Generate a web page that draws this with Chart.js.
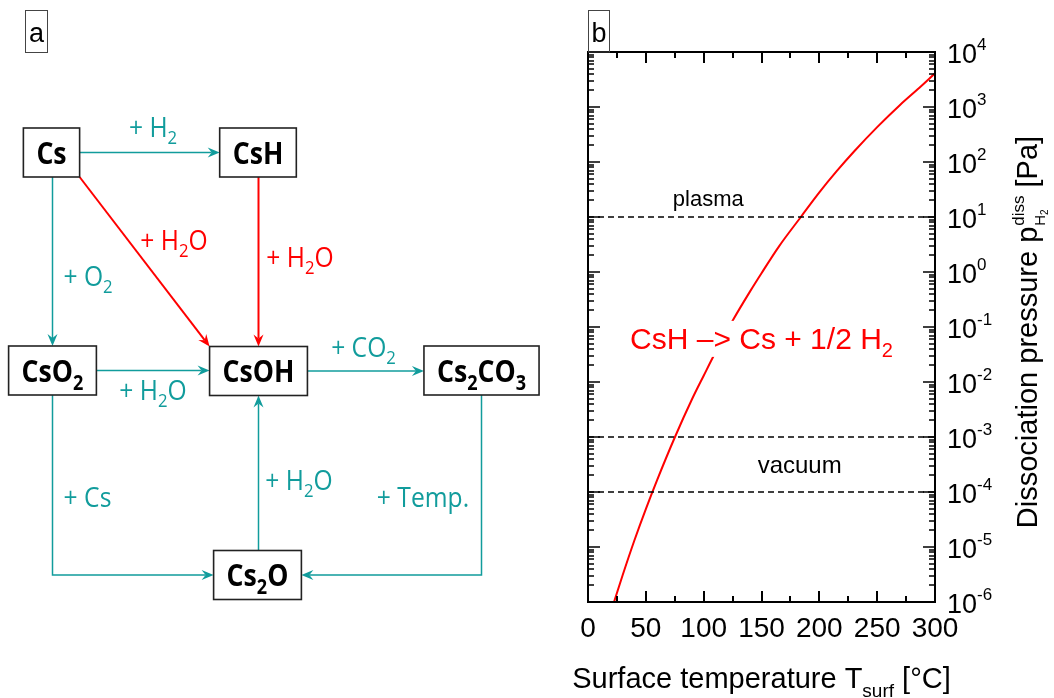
<!DOCTYPE html>
<html>
<head>
<meta charset="utf-8">
<script src="https://cdn.jsdelivr.net/npm/chart.js@4.4.1/dist/chart.umd.min.js"></script>
<style>
  body { margin: 0; background: #fff; }
  #wrap { position: relative; width: 1054px; height: 698px; overflow: hidden; }
  #diagram { position: absolute; left: 0; top: 0; }
  #chart { position: absolute; left: 560px; top: 0; }
</style>
</head>
<body>
<div id="wrap">
  <canvas id="diagram" width="560" height="698"></canvas>
  <canvas id="chart" width="494" height="698"></canvas>
</div>
<script>
// ---- panel b data: dissociation pressure of CsH ----
var tempC = [22.5, 30, 40, 50, 60, 75, 90, 100, 110, 125, 140, 150, 165, 184, 200, 215, 230, 250, 270, 285, 300];
var pDiss = [1.0e-6, 3.1e-6, 1.3e-5, 4.9e-5, 1.7e-4, 9.8e-4, 4.9e-3, 1.3e-2, 3.4e-2, 0.13, 0.44, 0.95, 2.9, 10, 28, 68, 155, 430, 1100, 2100, 4100];
var plasmaLevel = 10;
var vacuumLevels = [1e-3, 1e-4];
var xMajorTicks = [0, 50, 100, 150, 200, 250, 300];
var xMinorTicks = [25, 75, 125, 175, 225, 275];
var yExponents = [-6, -5, -4, -3, -2, -1, 0, 1, 2, 3, 4];

// ---- panel a data: reaction scheme ----
var nodeNames = ['Cs', 'CsH', 'CsO_2', 'CsOH', 'Cs_2CO_3', 'Cs_2O'];
var nodeX = [51.5, 258, 52.5, 258.5, 481.5, 257.5];
var nodeY = [152.5, 152.5, 370.5, 371, 370.5, 575];
var edgeFrom = [0, 0, 0, 1, 2, 3, 2, 4, 5];
var edgeTo = [1, 2, 3, 3, 3, 4, 5, 5, 3];
var edgeRoute = ['h', 'v', 'd', 'v', 'h', 'h', 'elbow', 'elbow', 'v'];
var edgeLabels = ['+ H_2', '+ O_2', '+ H_2O', '+ H_2O', '+ H_2O', '+ CO_2', '+ Cs', '+ Temp.', '+ H_2O'];
var edgeWater = [false, false, true, true, false, false, false, false, false];
var labelX = [153, 88, 174, 300, 153, 363.5, 87.5, 423, 299];
var labelY = [137, 286, 250, 267, 400, 357, 507, 507, 490];

var TEAL = '#119c9c';
var RED = '#ff0000';
var SANS = '"Liberation Sans", Arial, sans-serif';
var HUMAN = '"Open Sans", "Noto Sans", sans-serif';

// split "Cs_2CO_3" / "p^{diss}" into pieces
function parseRich(s) {
  var out = [], buf = '', i = 0;
  while (i < s.length) {
    var c = s[i];
    if (c === '_' || c === '^') {
      if (buf) { out.push({ t: buf, m: 'n' }); buf = ''; }
      i++;
      var t;
      if (s[i] === '{') { var j = s.indexOf('}', i); t = s.slice(i + 1, j); i = j + 1; }
      else { t = s[i]; i++; }
      out.push({ t: t, m: c === '_' ? 'sub' : 'sup' });
    } else { buf += c; i++; }
  }
  if (buf) out.push({ t: buf, m: 'n' });
  return out;
}

function richWidth(ctx, s, o) {
  var parts = parseRich(s), w = 0;
  parts.forEach(function(p) {
    ctx.font = (o.weight || '') + ' ' + (p.m === 'n' ? o.size : o.small) + 'px ' + o.family;
    w += ctx.measureText(p.t).width * (o.sx || 1);
  });
  return w;
}

function drawRich(ctx, s, x, y, o) {
  var parts = parseRich(s);
  var w = richWidth(ctx, s, o);
  var cx = o.align === 'center' ? x - w / 2 : (o.align === 'right' ? x - w : x);
  ctx.fillStyle = o.color;
  ctx.textBaseline = 'alphabetic';
  ctx.textAlign = 'left';
  parts.forEach(function(p) {
    ctx.font = (o.weight || '') + ' ' + (p.m === 'n' ? o.size : o.small) + 'px ' + o.family;
    var dy = p.m === 'sub' ? o.subDy : (p.m === 'sup' ? -o.supDy : 0);
    ctx.save();
    ctx.translate(cx, y + dy);
    ctx.scale(o.sx || 1, 1);
    ctx.fillText(p.t, 0, 0);
    ctx.restore();
    cx += ctx.measureText(p.t).width * (o.sx || 1);
  });
  return w;
}

function arrow(ctx, pts, color, width) {
  var n = pts.length;
  var x2 = pts[n - 1][0], y2 = pts[n - 1][1];
  var ang = Math.atan2(y2 - pts[n - 2][1], x2 - pts[n - 2][0]);
  var L = 12, W = 5, notch = 4;
  var dx = Math.cos(ang), dy = Math.sin(ang);
  ctx.strokeStyle = color;
  ctx.lineWidth = width;
  ctx.beginPath();
  ctx.moveTo(pts[0][0], pts[0][1]);
  for (var i = 1; i < n - 1; i++) ctx.lineTo(pts[i][0], pts[i][1]);
  ctx.lineTo(x2 - dx * (L - notch), y2 - dy * (L - notch));
  ctx.stroke();
  ctx.fillStyle = color;
  ctx.beginPath();
  ctx.moveTo(x2, y2);
  ctx.lineTo(x2 - dx * L - dy * W, y2 - dy * L + dx * W);
  ctx.lineTo(x2 - dx * (L - notch), y2 - dy * (L - notch));
  ctx.lineTo(x2 - dx * L + dy * W, y2 - dy * L - dx * W);
  ctx.closePath();
  ctx.fill();
}

var nodeFont = { family: HUMAN, weight: 'bold', size: 31, small: 21, subDy: 8, sx: 0.86 };
var labelFont = { family: HUMAN, weight: '', size: 28, small: 19, subDy: 7, sx: 0.88, align: 'center' };

// scheme drawn on a blank scatter chart, positions come from its scales
var schemePlugin = {
  id: 'scheme',
  afterDraw: function(chart) {
    var ctx = chart.ctx, xs = chart.scales.x, ys = chart.scales.y;
    var boxes = nodeNames.map(function(name, i) {
      var w = richWidth(ctx, name, nodeFont) + 26, h = 49;
      var cx = xs.getPixelForValue(nodeX[i]), cy = ys.getPixelForValue(nodeY[i]);
      return { cx: cx, cy: cy, l: cx - w / 2, r: cx + w / 2, t: cy - h / 2, b: cy + h / 2 };
    });
    ctx.save();
    // panel letter
    ctx.strokeStyle = '#444'; ctx.lineWidth = 1;
    ctx.strokeRect(25.5, 10.5, 22, 42);
    ctx.fillStyle = '#000'; ctx.font = '27px ' + SANS; ctx.textAlign = 'center';
    ctx.fillText('a', 36.5, 42);

    edgeFrom.forEach(function(f, k) {
      var a = boxes[f], b = boxes[edgeTo[k]], pts;
      var color = edgeWater[k] ? RED : TEAL;
      var lw = edgeWater[k] ? 2 : 1.5;
      if (edgeRoute[k] === 'h') {
        pts = b.cx > a.cx ? [[a.r, a.cy], [b.l, a.cy]] : [[a.l, a.cy], [b.r, a.cy]];
      } else if (edgeRoute[k] === 'v') {
        pts = b.cy > a.cy ? [[b.cx, a.b], [b.cx, b.t]] : [[b.cx, a.t], [b.cx, b.b]];
      } else if (edgeRoute[k] === 'd') {
        pts = [[a.r, a.b], [b.l, b.t]];
      } else {
        pts = [[a.cx, a.b], [a.cx, b.cy], [b.cx > a.cx ? b.l : b.r, b.cy]];
      }
      arrow(ctx, pts, color, lw);
    });

    boxes.forEach(function(bx, i) {
      ctx.fillStyle = '#fff';
      ctx.fillRect(bx.l, bx.t, bx.r - bx.l, bx.b - bx.t);
      ctx.strokeStyle = '#222'; ctx.lineWidth = 1.6;
      ctx.strokeRect(bx.l, bx.t, bx.r - bx.l, bx.b - bx.t);
      drawRich(ctx, nodeNames[i], bx.cx, bx.cy + 11, Object.assign({ color: '#000', align: 'center' }, nodeFont));
    });

    edgeLabels.forEach(function(lab, k) {
      drawRich(ctx, lab, xs.getPixelForValue(labelX[k]), ys.getPixelForValue(labelY[k]),
        Object.assign({ color: edgeWater[k] ? RED : TEAL }, labelFont));
    });
    ctx.restore();
  }
};

new Chart(document.getElementById('diagram'), {
  type: 'scatter',
  data: {
    datasets: [{
      data: nodeX.map(function(x, i) { return { x: x, y: nodeY[i] }; }),
      pointRadius: 0
    }]
  },
  options: {
    responsive: false,
    animation: false,
    devicePixelRatio: 1,
    events: [],
    layout: { padding: 0 },
    plugins: { legend: { display: false }, tooltip: { enabled: false } },
    scales: {
      x: { type: 'linear', min: 0, max: 560, display: false },
      y: { type: 'linear', min: 0, max: 698, reverse: true, display: false }
    }
  },
  plugins: [schemePlugin]
});

// ---- panel b ----
var tickFont = SANS;

var framePlugin = {
  id: 'frame',
  afterDatasetsDraw: function(chart) {
    var ctx = chart.ctx, xs = chart.scales.x, ys = chart.scales.y, a = chart.chartArea;
    ctx.save();
    // reaction label with white backing (cuts the curve)
    var lx = (a.left + a.right) / 2, ly = ys.getPixelForValue(0.04);
    var o = { family: SANS, size: 30, small: 20, subDy: 8, color: RED, align: 'center' };
    var w = richWidth(ctx, 'CsH \u2013> Cs + 1/2 H_2', o);
    ctx.fillStyle = '#fff';
    ctx.fillRect(lx - w / 2 - 3, ly - 28, w + 6, 36);
    drawRich(ctx, 'CsH \u2013> Cs + 1/2 H_2', lx, ly, o);

    ctx.fillStyle = '#000';
    ctx.textAlign = 'center';
    ctx.textBaseline = 'alphabetic';
    ctx.font = '22px ' + SANS;
    ctx.fillText('plasma', xs.getPixelForValue(104), ys.getPixelForValue(16));
    ctx.font = '24px ' + SANS;
    ctx.fillText('vacuum', xs.getPixelForValue(183), ys.getPixelForValue(2.2e-4));
    ctx.restore();
  },
  afterDraw: function(chart) {
    var ctx = chart.ctx, xs = chart.scales.x, ys = chart.scales.y, a = chart.chartArea;
    ctx.save();
    ctx.strokeStyle = '#000';
    ctx.lineWidth = 2;
    ctx.beginPath();
    // x ticks, inside, top and bottom
    xMajorTicks.concat(xMinorTicks).forEach(function(v) {
      var len = xMajorTicks.indexOf(v) >= 0 ? 11 : 6;
      var px = Math.round(xs.getPixelForValue(v));
      ctx.moveTo(px, a.bottom); ctx.lineTo(px, a.bottom - len);
      ctx.moveTo(px, a.top); ctx.lineTo(px, a.top + len);
    });
    ctx.stroke();
    // y ticks, inside, left and right
    ctx.lineWidth = 1.5;
    ctx.beginPath();
    yExponents.forEach(function(e) {
      for (var m = 1; m <= 9; m++) {
        if (e === 4 && m > 1) break;
        var py = Math.round(ys.getPixelForValue(m * Math.pow(10, e)));
        var len = m === 1 ? 12 : 6;
        ctx.moveTo(a.left, py); ctx.lineTo(a.left + len, py);
        ctx.moveTo(a.right, py); ctx.lineTo(a.right - len, py);
      }
    });
    ctx.stroke();
    ctx.lineWidth = 2;
    ctx.strokeRect(a.left, a.top, a.right - a.left, a.bottom - a.top);

    // panel letter
    ctx.lineWidth = 1; ctx.strokeStyle = '#444';
    ctx.strokeRect(a.left + 0.5, 10.5, 21, a.top - 10.5);
    ctx.fillStyle = '#000'; ctx.font = '27px ' + SANS; ctx.textAlign = 'center'; ctx.textBaseline = 'alphabetic';
    ctx.fillText('b', a.left + 11, 42);

    // x tick labels
    ctx.font = '28px ' + tickFont;
    xMajorTicks.forEach(function(v) {
      ctx.fillText(String(v), xs.getPixelForValue(v), a.bottom + 35);
    });
    // y tick labels 10^n
    yExponents.forEach(function(e) {
      var py = ys.getPixelForValue(Math.pow(10, e));
      drawRich(ctx, '10^{' + e + '}', a.right + 12, py + 11,
        { family: tickFont, size: 27, small: 17, supDy: 13, color: '#000', align: 'left' });
    });

    // x title
    var tf = { family: SANS, size: 29, small: 19, subDy: 9, color: '#000', align: 'center' };
    drawRich(ctx, 'Surface temperature T_{surf} [\u00b0C]', (a.left + a.right) / 2, 688, tf);

    // y title, rotated, with stacked sup/sub on p
    ctx.save();
    ctx.translate(a.right + 102, (a.top + a.bottom) / 2 + 5);
    ctx.rotate(-Math.PI / 2);
    ctx.fillStyle = '#000';
    ctx.textAlign = 'left';
    var f1 = '29px ' + SANS, f2 = '17px ' + SANS, f3 = '15px ' + SANS, f4 = '10px ' + SANS;
    var s1 = 'Dissociation pressure p', s5 = ' [Pa]';
    ctx.font = f1; var w1 = ctx.measureText(s1).width, w5 = ctx.measureText(s5).width;
    ctx.font = f2; var w2 = ctx.measureText('diss').width;
    ctx.font = f3; var w3 = ctx.measureText('H').width;
    ctx.font = f4; var w4 = ctx.measureText('2').width;
    var wm = Math.max(w2, w3 + w4) + 1;
    var x0 = -(w1 + wm + w5) / 2;
    ctx.font = f1; ctx.fillText(s1, x0, 0);
    ctx.font = f2; ctx.fillText('diss', x0 + w1 + 1, -13);
    ctx.font = f3; ctx.fillText('H', x0 + w1 + 1, 8);
    ctx.font = f4; ctx.fillText('2', x0 + w1 + 1 + w3, 11);
    ctx.font = f1; ctx.fillText(s5, x0 + w1 + wm, 0);
    ctx.restore();
    ctx.restore();
  }
};

function dashed(level) {
  return {
    data: [{ x: 0, y: level }, { x: 300, y: level }],
    borderColor: '#000',
    borderWidth: 1.4,
    borderDash: [6, 4],
    pointRadius: 0,
    showLine: true
  };
}

new Chart(document.getElementById('chart'), {
  type: 'scatter',
  data: {
    datasets: [
      dashed(plasmaLevel),
      dashed(vacuumLevels[0]),
      dashed(vacuumLevels[1]),
      {
        data: tempC.map(function(t, i) { return { x: t, y: pDiss[i] }; }),
        borderColor: RED,
        borderWidth: 2,
        pointRadius: 0,
        showLine: true,
        cubicInterpolationMode: 'monotone'
      }
    ]
  },
  options: {
    responsive: false,
    animation: false,
    devicePixelRatio: 1,
    events: [],
    layout: { padding: { left: 28, right: 119, top: 52, bottom: 96 } },
    plugins: { legend: { display: false }, tooltip: { enabled: false } },
    scales: {
      x: { type: 'linear', min: 0, max: 300, display: false },
      y: { type: 'logarithmic', min: 1e-6, max: 1e4, display: false }
    }
  },
  plugins: [framePlugin]
});
</script>
</body>
</html>
